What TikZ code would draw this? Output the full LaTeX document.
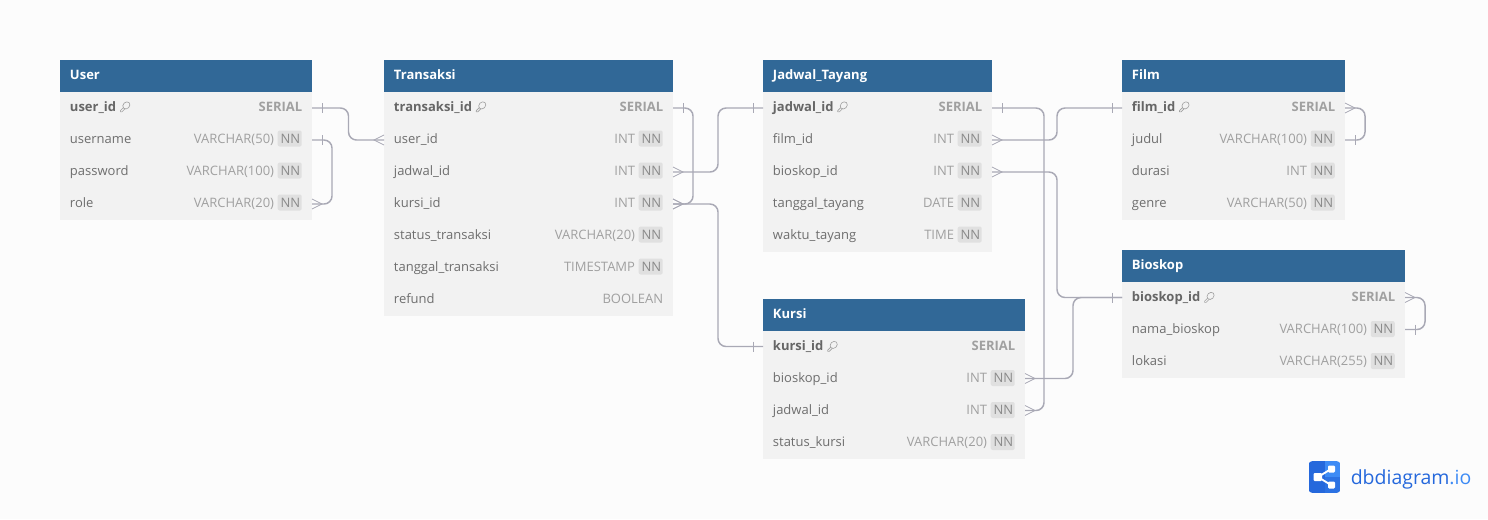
\documentclass[tikz,border=0pt]{standalone}
\usepackage{fontspec}
\setmainfont{Open Sans}
\usetikzlibrary{calc}
\definecolor{bgc}{HTML}{FCFCFC}
\definecolor{headc}{HTML}{316897}
\definecolor{rowc}{HTML}{F2F2F2}
\definecolor{linec}{HTML}{A9A9B5}
\definecolor{fieldc}{HTML}{6E6E6E}
\definecolor{pkc}{HTML}{666666}
\definecolor{typec}{HTML}{A0A0A0}
\definecolor{nnbg}{HTML}{E0E0E0}
\definecolor{nnc}{HTML}{8A8A8A}
\definecolor{logoa}{HTML}{2568DC}
\definecolor{logob}{HTML}{3D8BF5}
\tikzset{
  x=0.75pt,y=-0.75pt,
  headbox/.style={fill=headc,inner sep=0pt,outer sep=0pt,minimum height=24pt},
  rowbox/.style={fill=rowc,inner sep=0pt,outer sep=0pt,minimum height=24pt},
  headtxt/.style={text=white,inner sep=0pt,anchor=base west,font=\fontsize{9.75}{12}\selectfont\bfseries},
  fieldtxt/.style={text=fieldc,inner sep=0pt,anchor=base west,font=\fontsize{9.75}{12}\selectfont},
  pktxt/.style={text=pkc,inner sep=0pt,anchor=base west,font=\fontsize{9.75}{12}\selectfont\bfseries},
  typetxt/.style={text=typec,inner sep=0pt,anchor=base east,font=\fontsize{9.75}{12}\selectfont},
  pktype/.style={text=typec,inner sep=0pt,anchor=base east,font=\fontsize{9.75}{12}\selectfont\bfseries},
  nnbox/.style={fill=nnbg,text=nnc,rounded corners=1.5pt,inner sep=0pt,minimum width=18pt,minimum height=12pt,font=\fontsize{9.75}{12}\selectfont},
  rel/.style={draw=linec,line width=1.1pt,rounded corners=6pt},
  relmark/.style={draw=linec,line width=0.6pt},
}
\def\tdy{19}
% #1 id, #2 x, #3 y, #4 w, #5 title
\newcommand\dbhead[5]{%
  \node[headbox,minimum width=#4*0.75pt] (#1) at (#2+#4/2,#3+16) {};
  \node[headtxt] (#1-title) at (#2+9.7,#3+\tdy) {#5};
}
% primary key row: #1 id, #2 x, #3 y, #4 w, #5 name, #6 type
\newcommand\dbpk[6]{%
  \node[rowbox,minimum width=#4*0.75pt] (#1) at (#2+#4/2,#3+16) {};
  \node[pktxt] (#1-name) at (#2+9.7,#3+\tdy) {#5};
  \node[pktype] (#1-type) at (#2+#4-9.5,#3+\tdy) {#6};
  \begin{scope}[shift={(#1-name.base east)}]
    \draw[typec,line width=0.45pt,rotate around={45:(10,-5.6)}] (10,-5.6) ellipse[x radius=3.9,y radius=3.2];
    \draw[typec,line width=0.45pt,line join=round] (7.0,-3.4) -- (4.0,-0.4) -- (4.0,0.8) -- (5.6,0.8) -- (8.8,-2.4);
  \end{scope}
}
% nn row
\newcommand\dbnn[6]{%
  \node[rowbox,minimum width=#4*0.75pt] (#1) at (#2+#4/2,#3+16) {};
  \node[fieldtxt] (#1-name) at (#2+9.7,#3+\tdy) {#5};
  \node[nnbox,anchor=east] (#1-nn) at (#2+#4-10,#3+\tdy-4.5) {};
  \node[inner sep=0pt,anchor=base,text=nnc,font=\fontsize{9.75}{12}\selectfont] (#1-nt) at (#2+#4-21.7,#3+\tdy) {NN};
  \node[typetxt] (#1-type) at (#2+#4-37.7,#3+\tdy) {#6};
}
% plain row
\newcommand\dbplain[6]{%
  \node[rowbox,minimum width=#4*0.75pt] (#1) at (#2+#4/2,#3+16) {};
  \node[fieldtxt] (#1-name) at (#2+9.7,#3+\tdy) {#5};
  \node[typetxt] (#1-type) at (#2+#4-9.5,#3+\tdy) {#6};
}
% marks: one at the edge of a table, dir = +1 to the right, -1 to the left
\newcommand\onemark[2]{\draw[relmark] ($(#1)+(#2*10,-5)$) -- ($(#1)+(#2*10,5)$);}
\newcommand\crowmark[2]{\draw[relmark] ($(#1)+(0,-5)$) -- ($(#1)+(#2*10,0)$) -- ($(#1)+(0,5)$);}
\begin{document}
\begin{tikzpicture}
\useasboundingbox[fill=bgc] (0,0) rectangle (1488,519);

% User
\dbhead{u}{60}{60}{252}{User}
\dbpk{uid}{60}{92}{252}{user\_id}{SERIAL}
\dbnn{uname}{60}{124}{252}{username}{VARCHAR(50)}
\dbnn{upass}{60}{156}{252}{password}{VARCHAR(100)}
\dbnn{urole}{60}{188}{252}{role}{VARCHAR(20)}

% Transaksi
\dbhead{t}{384}{60}{289}{Transaksi}
\dbpk{tid}{384}{92}{289}{transaksi\_id}{SERIAL}
\dbnn{tuser}{384}{124}{289}{user\_id}{INT}
\dbnn{tjad}{384}{156}{289}{jadwal\_id}{INT}
\dbnn{tkur}{384}{188}{289}{kursi\_id}{INT}
\dbnn{tstat}{384}{220}{289}{status\_transaksi}{VARCHAR(20)}
\dbnn{ttgl}{384}{252}{289}{tanggal\_transaksi}{TIMESTAMP}
\dbplain{tref}{384}{284}{289}{refund}{BOOLEAN}

% Jadwal_Tayang
\dbhead{j}{763}{60}{229}{Jadwal\_Tayang}
\dbpk{jid}{763}{92}{229}{jadwal\_id}{SERIAL}
\dbnn{jfilm}{763}{124}{229}{film\_id}{INT}
\dbnn{jbio}{763}{156}{229}{bioskop\_id}{INT}
\dbnn{jtgl}{763}{188}{229}{tanggal\_tayang}{DATE}
\dbnn{jwkt}{763}{220}{229}{waktu\_tayang}{TIME}

% Film
\dbhead{f}{1122}{60}{223}{Film}
\dbpk{fid}{1122}{92}{223}{film\_id}{SERIAL}
\dbnn{fjud}{1122}{124}{223}{judul}{VARCHAR(100)}
\dbnn{fdur}{1122}{156}{223}{durasi}{INT}
\dbnn{fgen}{1122}{188}{223}{genre}{VARCHAR(50)}

% Bioskop
\def\tdy{20}
\dbhead{b}{1122}{249.5}{283}{Bioskop}
\dbpk{bid}{1122}{281.5}{283}{bioskop\_id}{SERIAL}
\dbnn{bnam}{1122}{313.5}{283}{nama\_bioskop}{VARCHAR(100)}
\dbnn{blok}{1122}{345.5}{283}{lokasi}{VARCHAR(255)}

% Kursi
\dbhead{k}{763}{298.5}{262}{Kursi}
\dbpk{kid}{763}{330.5}{262}{kursi\_id}{SERIAL}
\dbnn{kbio}{763}{362.5}{262}{bioskop\_id}{INT}
\dbnn{kjad}{763}{394.5}{262}{jadwal\_id}{INT}
\dbnn{kstat}{763}{426.5}{262}{status\_kursi}{VARCHAR(20)}

% Connectors
\draw[rel] (uid.east) -- ++(36.5,0) |- (tuser.west);
\onemark{uid.east}{1} \crowmark{tuser.west}{-1}
\draw[rel] (uname.east) -- ++(20,0) |- (urole.east);
\onemark{uname.east}{1} \crowmark{urole.east}{1}
\draw[rel] (tid.east) -- ++(20,0) |- (tkur.east);
\onemark{tid.east}{1} \crowmark{tkur.east}{1}
\draw[rel] (tjad.east) -- ++(45,0) |- (jid.west);
\crowmark{tjad.east}{1} \onemark{jid.west}{-1}
\draw[rel] (tkur.east) -- ++(45,0) |- (kid.west);
\crowmark{tkur.east}{1} \onemark{kid.west}{-1}
\draw[rel] (jid.east) -- ++(52,0) |- (kjad.east);
\onemark{jid.east}{1} \crowmark{kjad.east}{1}
\draw[rel] (jfilm.east) -- ++(65,0) |- (fid.west);
\crowmark{jfilm.east}{1} \onemark{fid.west}{-1}
\draw[rel] (jbio.east) -- ++(65,0) |- (bid.west);
\crowmark{jbio.east}{1} \onemark{bid.west}{-1}
\draw[rel] (kbio.east) -- ++(48,0) |- (bid.west);
\crowmark{kbio.east}{1}
\draw[rel] (fid.east) -- ++(20,0) |- (fjud.east);
\crowmark{fid.east}{1} \onemark{fjud.east}{1}
\draw[rel] (bid.east) -- ++(20,0) |- (bnam.east);
\crowmark{bid.east}{1} \onemark{bnam.east}{1}

% Logo
\node[inner sep=0pt,anchor=base west,text=logoa,font=\fontsize{14.6}{17}\selectfont] (logotext) at (1350.5,484) {dbdiagram\textcolor{logob}{.io}};
\begin{scope}
  \clip[rounded corners=3pt] (1308.5,461) rectangle (1340.5,493);
  \fill[logoa] (1308.5,461) rectangle (1324.5,493);
  \fill[logob] (1324.5,461) rectangle (1340.5,477);
  \fill[logoa!70!logob] (1324.5,477) rectangle (1340.5,493);
\end{scope}
\draw[white,line width=1.4pt] (1318,477) -- (1331,469) (1318,477) -- (1331,485);
\fill[white,rounded corners=0.8pt] (1313.5,473) rectangle (1322,481);
\fill[white,rounded corners=0.8pt] (1328,465.5) rectangle (1335,472.5);
\fill[white,rounded corners=0.8pt] (1328,481.5) rectangle (1335,488.5);
\end{tikzpicture}
\end{document}
